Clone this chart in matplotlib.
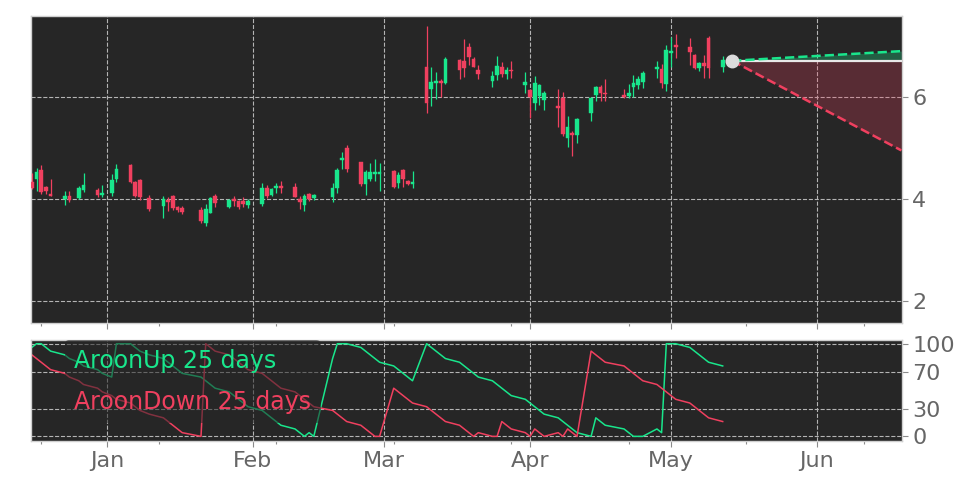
import numpy as np
import pandas as pd
import matplotlib
matplotlib.use("Agg")
import matplotlib.pyplot as plt
import matplotlib.dates as mdates
from matplotlib.ticker import FixedLocator

# trading days shown on the chart
dates = [
    "2024-12-16", "2024-12-17", "2024-12-18", "2024-12-19", "2024-12-20",
    "2024-12-23", "2024-12-24", "2024-12-26", "2024-12-27", "2024-12-30", "2024-12-31",
    "2025-01-02", "2025-01-03", "2025-01-06", "2025-01-07", "2025-01-08", "2025-01-10",
    "2025-01-13", "2025-01-14", "2025-01-15", "2025-01-16", "2025-01-17",
    "2025-01-21", "2025-01-22", "2025-01-23", "2025-01-24",
    "2025-01-27", "2025-01-28", "2025-01-29", "2025-01-30", "2025-01-31",
    "2025-02-03", "2025-02-04", "2025-02-05", "2025-02-06", "2025-02-07",
    "2025-02-10", "2025-02-11", "2025-02-12", "2025-02-13", "2025-02-14",
    "2025-02-18", "2025-02-19", "2025-02-20", "2025-02-21",
    "2025-02-24", "2025-02-25", "2025-02-26", "2025-02-27", "2025-02-28",
    "2025-03-03", "2025-03-04", "2025-03-05", "2025-03-06", "2025-03-07",
    "2025-03-10", "2025-03-11", "2025-03-12", "2025-03-13", "2025-03-14",
    "2025-03-17", "2025-03-18", "2025-03-19", "2025-03-20", "2025-03-21",
    "2025-03-24", "2025-03-25", "2025-03-26", "2025-03-27", "2025-03-28",
    "2025-03-31", "2025-04-01", "2025-04-02", "2025-04-03", "2025-04-04",
    "2025-04-07", "2025-04-08", "2025-04-09", "2025-04-10", "2025-04-11",
    "2025-04-14", "2025-04-15", "2025-04-16", "2025-04-17",
    "2025-04-21", "2025-04-22", "2025-04-23", "2025-04-24", "2025-04-25",
    "2025-04-28", "2025-04-29", "2025-04-30", "2025-05-01", "2025-05-02",
    "2025-05-05", "2025-05-06", "2025-05-07", "2025-05-08", "2025-05-09",
    "2025-05-12",
]

opens = [
    4.32, 4.39, 4.57, 4.24, 4.08, 4.00, 4.06, 4.02, 4.17, 4.18, 4.08,
    4.11, 4.39, 4.66, 4.32, 4.37, 4.01, 3.85, 3.97, 4.06, 3.83, 3.82,
    3.78, 3.52, 3.73, 4.06, 3.84, 3.99, 3.96, 3.96, 3.88,
    3.90, 4.22, 4.08, 4.22, 4.25, 4.24, 3.99, 3.88, 4.10, 4.02,
    4.04, 4.21, 4.76, 5.00, 4.73, 4.29, 4.39, 4.49, 4.49,
    4.54, 4.31, 4.57, 4.34, 4.29, 6.59, 6.15, 6.28, 6.30, 6.27,
    6.73, 6.71, 6.98, 6.75, 6.53, 6.31, 6.43, 6.59, 6.45, 6.53,
    6.23, 6.14, 5.89, 6.02, 5.94, 5.82, 5.97, 5.19, 5.30, 5.25,
    5.69, 6.04, 6.20, 6.07, 6.04, 6.02, 6.20, 6.24, 6.29,
    6.54, 6.54, 6.25, 6.87, 7.01, 6.98, 6.82, 6.57, 6.66, 7.15,
    6.59,
]
highs = [
    4.50, 4.61, 4.66, 4.25, 4.39, 4.16, 4.16, 4.25, 4.50, 4.21, 4.27,
    4.48, 4.69, 4.68, 4.35, 4.38, 4.08, 4.06, 4.04, 4.08, 3.86, 3.85,
    3.83, 3.90, 4.03, 4.10, 4.00, 4.06, 3.98, 4.03, 3.99,
    4.30, 4.28, 4.22, 4.30, 4.35, 4.30, 4.06, 4.09, 4.12, 4.10,
    4.30, 4.60, 4.91, 5.06, 4.73, 4.56, 4.71, 4.78, 4.71,
    4.56, 4.52, 4.58, 4.36, 4.55, 7.39, 6.59, 6.49, 6.36, 6.78,
    6.75, 7.13, 7.05, 6.78, 6.63, 6.51, 6.80, 6.69, 6.59, 6.70,
    6.49, 6.16, 6.41, 6.25, 6.12, 6.15, 6.09, 5.63, 5.33, 5.59,
    5.99, 6.22, 6.24, 6.35, 6.15, 6.25, 6.43, 6.41, 6.51,
    6.71, 6.65, 7.03, 7.17, 7.24, 7.16, 6.84, 6.68, 6.82, 7.20,
    6.80,
]
lows = [
    4.20, 4.16, 4.09, 4.09, 4.05, 3.88, 3.94, 4.00, 4.14, 4.04, 4.03,
    4.06, 4.33, 4.30, 4.03, 3.98, 3.75, 3.62, 3.75, 3.78, 3.74, 3.70,
    3.52, 3.46, 3.72, 3.84, 3.82, 3.86, 3.80, 3.83, 3.82,
    3.86, 4.02, 4.06, 4.12, 4.12, 4.03, 3.80, 3.76, 3.95, 3.98,
    3.93, 4.12, 4.58, 4.53, 4.25, 4.07, 4.35, 4.35, 4.16,
    4.22, 4.21, 4.24, 4.27, 4.22, 5.69, 5.82, 5.96, 6.00, 6.25,
    6.36, 6.40, 6.62, 6.58, 6.36, 6.20, 6.33, 6.40, 6.36, 6.37,
    6.08, 5.58, 5.75, 5.85, 5.75, 5.40, 5.24, 5.02, 4.84, 5.10,
    5.53, 5.92, 5.93, 5.93, 5.97, 5.97, 6.00, 6.15, 6.18,
    6.37, 6.18, 6.12, 6.58, 6.77, 6.62, 6.55, 6.50, 6.37, 6.37,
    6.49,
]
closes = [
    4.22, 4.52, 4.14, 4.15, 4.06, 4.06, 3.98, 4.22, 4.27, 4.08, 4.12,
    4.37, 4.59, 4.32, 4.06, 4.03, 3.80, 3.99, 3.93, 3.82, 3.77, 3.74,
    3.56, 3.80, 4.01, 3.91, 3.97, 3.95, 3.84, 3.89, 3.95,
    4.22, 4.06, 4.20, 4.25, 4.22, 4.04, 3.94, 4.06, 3.99, 4.08,
    4.22, 4.57, 4.81, 4.58, 4.29, 4.53, 4.52, 4.53, 4.53,
    4.24, 4.46, 4.39, 4.29, 4.32, 5.89, 6.29, 6.30, 6.28, 6.75,
    6.52, 6.56, 6.78, 6.59, 6.46, 6.41, 6.61, 6.45, 6.53, 6.50,
    6.29, 6.00, 6.28, 6.23, 6.07, 5.78, 5.27, 5.41, 5.25, 5.57,
    5.97, 6.20, 6.07, 6.05, 6.00, 6.08, 6.28, 6.35, 6.48,
    6.59, 6.28, 6.92, 6.90, 6.99, 6.88, 6.57, 6.66, 6.60, 6.57,
    6.72,
]

aroon_up = [
    96, 100, 100, 96, 92, 88, 84, 80, 76, 72, 68,
    64, 100, 100, 96, 92, 88, 84, 80, 76, 72, 68,
    64, 60, 56, 52, 48, 44, 40, 36, 32,
    28, 24, 20, 16, 12, 8, 4, 0, 4, 0,
    84, 100, 100, 100, 96, 92, 88, 84, 80,
    76, 72, 68, 64, 60, 100, 96, 92, 88, 84,
    80, 76, 72, 68, 64, 60, 56, 52, 48, 44,
    40, 36, 32, 28, 24, 20, 16, 12, 8, 4,
    0, 20, 16, 12, 8, 4, 0, 0, 0,
    8, 4, 100, 100, 100, 96, 92, 88, 84, 80,
    76,
]
aroon_down = [
    88, 84, 80, 76, 72, 68, 64, 60, 56, 52, 48,
    44, 40, 36, 32, 28, 24, 20, 16, 12, 8, 4,
    0, 100, 96, 92, 88, 84, 80, 76, 72,
    68, 64, 60, 56, 52, 48, 44, 40, 36, 32,
    28, 24, 20, 16, 12, 8, 4, 0, 0,
    52, 48, 44, 40, 36, 32, 28, 24, 20, 16,
    12, 8, 4, 0, 4, 0, 0, 16, 12, 8,
    4, 0, 8, 4, 0, 4, 0, 8, 4, 0,
    92, 88, 84, 80, 76, 72, 68, 64, 60,
    56, 52, 48, 44, 40, 36, 32, 28, 24, 20,
    16,
]

# last price marker and projection cone
last_date = "2025-05-14"
last_price = 6.71
proj_end = "2025-06-19"
proj_high = 6.90
proj_low = 4.95

green = "#19e68c"
red = "#f0405f"
bg = "#262626"
grid_c = "#b4b4b4"
tick_c = "#666666"

x = mdates.date2num(pd.to_datetime(dates))
o = np.array(opens)
c = np.array(closes)
up = c >= o
cols = np.where(up, green, red)
body_bottom = np.minimum(o, c)
body_h = np.maximum(np.abs(c - o), 0.025)

fig = plt.figure(figsize=(9.72, 4.86), dpi=100)
fig.patch.set_facecolor("white")
ax1 = fig.add_axes([0.0319, 0.3354, 0.8961, 0.6317])
ax2 = fig.add_axes([0.0319, 0.0926, 0.8961, 0.2078], sharex=ax1)

for ax in (ax1, ax2):
    ax.set_facecolor(bg)
    ax.grid(True, which="major", linestyle="--", color=grid_c, lw=0.8)
    ax.set_axisbelow(True)
    for sp in ax.spines.values():
        sp.set_color("#cfcfcf")
        sp.set_linewidth(1.0)
    ax.yaxis.tick_right()
    ax.tick_params(axis="both", which="major", colors="#8a8a8a", labelcolor=tick_c,
                   labelsize=16, length=4, width=0.8)
    ax.tick_params(axis="both", which="minor", colors="#8a8a8a", length=2.5, width=0.8)

# candles
ax1.vlines(x, lows, highs, colors=cols, lw=0.9, zorder=3)
ax1.bar(x, body_h, bottom=body_bottom, width=0.78, color=cols, edgecolor=cols,
        lw=0.3, zorder=4)

# projection
px = mdates.date2num(pd.to_datetime([last_date, proj_end]))
ax1.fill_between(px, [last_price, last_price], [last_price, proj_high],
                 color=green, alpha=0.3, lw=0, zorder=2)
ax1.fill_between(px, [last_price, last_price], [last_price, proj_low],
                 color=red, alpha=0.25, lw=0, zorder=2)
ax1.plot(px, [last_price, last_price], color="#e8e8e8", lw=1.6, zorder=5)
ax1.plot(px, [last_price, proj_high], color=green, lw=1.8, ls="--", zorder=5)
ax1.plot(px, [last_price, proj_low], color=red, lw=1.8, ls="--", zorder=5)
ax1.plot(px[0], last_price, "o", color="#dcdcdc", markersize=9, zorder=6)

ax1.set_ylim(1.56, 7.59)
ax1.set_yticks([2, 4, 6])
ax1.tick_params(axis="x", which="both", labelbottom=False)

# aroon
ax2.plot(x, aroon_up, color=green, lw=1.1, label="AroonUp 25 days")
ax2.plot(x, aroon_down, color=red, lw=1.1, label="AroonDown 25 days")
ax2.set_ylim(-5, 104)
ax2.set_yticks([0, 30, 70, 100])
leg = ax2.legend(loc="upper left", bbox_to_anchor=(0.0386, 1.0), borderaxespad=0,
                 handlelength=0, handletextpad=0, borderpad=0.4, labelspacing=0.7,
                 fontsize=17, frameon=True, facecolor=bg, edgecolor="none",
                 framealpha=0.55, labelcolor=[green, red])
for h in leg.legend_handles:
    h.set_visible(False)

ax2.xaxis.set_major_locator(mdates.MonthLocator())
ax2.xaxis.set_major_formatter(mdates.DateFormatter("%b"))
minor_days = mdates.date2num(pd.date_range("2024-12-18", periods=8, freq="25D"))
ax2.xaxis.set_minor_locator(FixedLocator(minor_days))
ax2.set_xlim(mdates.date2num(pd.Timestamp("2024-12-16")) - 0.17,
             mdates.date2num(pd.Timestamp("2025-06-19")) + 0.15)

fig.savefig("out.png", dpi=100, facecolor="white")
